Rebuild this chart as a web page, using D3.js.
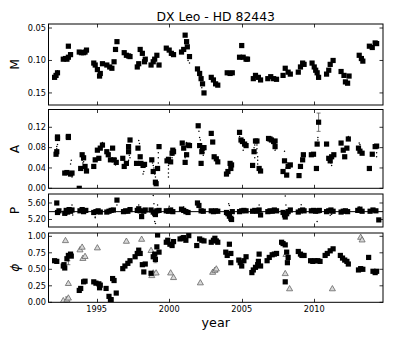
<!DOCTYPE html>
<html>
<head>
<meta charset="utf-8">
<script src="https://cdn.jsdelivr.net/npm/d3@7"></script>
<style>
  body { margin: 0; background: #fff; }
  text { font-family: "DejaVu Sans", sans-serif; }
</style>
</head>
<body>
<div class="mainDiv"></div>
<script>
// ---- data ----
const xTicks = [1995, 2000, 2005, 2010];

const mTicks = [0.05, 0.10, 0.15];
const mPts = [
  [1992.1,0.126],[1992.2,0.123],[1992.3,0.119],
  [1992.7,0.098],[1992.85,0.097],[1992.95,0.098],[1993.05,0.095],[1993.2,0.091],[1993.05,0.078],
  [1993.8,0.087],[1993.95,0.088],[1994.1,0.088],[1994.2,0.087],[1994.3,0.084],
  [1994.8,0.104],[1994.9,0.107],[1995.05,0.114],[1995.2,0.124],[1995.25,0.120],[1995.4,0.105],
  [1995.7,0.107],[1995.9,0.110],[1996.05,0.112],[1996.2,0.102],[1996.3,0.083],[1996.4,0.071],
  [1996.9,0.088],[1997.05,0.092],[1997.2,0.093],[1997.3,0.094],
  [1997.8,0.110],[1997.9,0.105],[1998.0,0.083],[1998.15,0.089],[1998.3,0.102],[1998.35,0.098],
  [1998.75,0.107],[1998.9,0.102],[1999.0,0.098],[1999.15,0.092],[1999.3,0.107],
  [1999.8,0.081],[2000.0,0.084],[2000.15,0.089],[2000.3,0.091],
  [2000.85,0.087],[2001.0,0.083],[2001.1,0.061],[2001.2,0.071],[2001.25,0.079],[2001.4,0.094],
  [2001.95,0.113],[2002.1,0.120],[2002.2,0.128],[2002.3,0.136],[2002.4,0.150],
  [2002.9,0.126],[2003.05,0.130],[2003.2,0.136],[2003.35,0.138],
  [2004.0,0.119],[2004.2,0.120],[2004.35,0.119],
  [2004.85,0.095],[2005.0,0.077],[2005.1,0.095],[2005.3,0.098],[2005.4,0.098],
  [2005.8,0.128],[2005.95,0.123],[2006.15,0.126],[2006.3,0.130],
  [2006.8,0.128],[2007.0,0.125],[2007.2,0.128],[2007.4,0.129],
  [2007.85,0.123],[2008.0,0.112],[2008.2,0.118],[2008.35,0.121],
  [2008.9,0.118],[2009.05,0.110],[2009.2,0.104],[2009.3,0.106],
  [2009.85,0.104],[2010.0,0.110],[2010.1,0.115],[2010.2,0.119],[2010.3,0.126],
  [2010.85,0.121],[2011.0,0.115],[2011.1,0.106],[2011.3,0.100],
  [2011.85,0.117],[2012.05,0.123],[2012.15,0.133],[2012.3,0.135],[2012.4,0.124],
  [2013.1,0.092],[2013.25,0.097],[2013.35,0.101],
  [2013.8,0.078],[2014.0,0.080],[2014.2,0.073],[2014.3,0.074]
];
const mDots = [[1992.3,0.116],[2001.3,0.100],[2001.4,0.104],[2002.25,0.142]];

const aTicks = [0.00, 0.04, 0.08, 0.12];
const aPts = [
  [1992.2,0.067],[1992.25,0.072],[1992.3,0.098],[1992.3,0.101],
  [1992.8,0.030],[1992.95,0.031],[1993.05,0.100],[1993.05,0.102],[1993.2,0.028],[1993.3,0.030],
  [1993.8,0.000],
  [1993.9,0.039],[1994.0,0.066],[1994.1,0.060],[1994.2,0.043],[1994.3,0.034],
  [1994.8,0.043],[1994.9,0.056],[1995.05,0.075],[1995.15,0.059],[1995.25,0.079],[1995.4,0.085],
  [1995.7,0.072],[1995.8,0.066],[1995.95,0.056],[1996.1,0.079],[1996.2,0.056],[1996.35,0.051],
  [1996.8,0.059],[1996.9,0.043],[1997.05,0.049],[1997.2,0.072],[1997.2,0.082],[1997.3,0.095],
  [1997.75,0.049],[1997.85,0.079],[1998.0,0.062],[1998.05,0.049],[1998.2,0.045],[1998.3,0.047],
  [1998.8,0.056],[1998.9,0.033],[1999.05,0.012],[1999.1,0.009],[1999.2,0.039],[1999.3,0.082],
  [1999.85,0.054],[1999.95,0.057],[2000.1,0.052],[2000.2,0.069],[2000.25,0.075],[2000.3,0.072],
  [2000.9,0.089],[2001.0,0.079],[2001.1,0.051],[2001.2,0.066],[2001.3,0.085],[2001.4,0.084],
  [2002.0,0.123],[2002.1,0.084],[2002.2,0.049],[2002.25,0.072],[2002.3,0.079],[2002.4,0.080],
  [2002.9,0.108],[2003.0,0.091],[2003.1,0.062],[2003.25,0.058],[2003.35,0.052],
  [2003.95,0.028],[2004.05,0.033],[2004.2,0.049],[2004.25,0.039],[2004.3,0.046],
  [2004.85,0.110],[2004.95,0.095],[2005.05,0.092],[2005.2,0.087],[2005.3,0.084],
  [2005.75,0.045],[2005.85,0.072],[2005.95,0.093],[2006.05,0.093],[2006.2,0.039],[2006.3,0.034],
  [2006.85,0.098],[2006.95,0.097],[2007.05,0.095],[2007.2,0.092],[2007.3,0.093],[2007.3,0.082],
  [2007.85,0.033],[2007.95,0.054],[2008.1,0.026],[2008.2,0.043],[2008.35,0.046],
  [2008.95,0.025],[2009.05,0.043],[2009.2,0.056],[2009.25,0.066],
  [2009.8,0.066],[2009.95,0.067],[2010.15,0.039],[2010.2,0.087],[2010.3,0.130],
  [2010.85,0.087],[2011.0,0.059],[2011.1,0.054],[2011.2,0.062],[2011.35,0.066],
  [2011.85,0.089],[2012.0,0.075],[2012.1,0.062],[2012.25,0.079],[2012.35,0.097],
  [2013.05,0.079],[2013.15,0.073],[2013.3,0.069],
  [2013.8,0.039],
  [2014.0,0.067],[2014.2,0.082],[2014.3,0.083]
];
const aDots = [
  [1992.25,0.078],[1992.25,0.082],[1992.3,0.086],
  [1993.25,0.055],[1993.2,0.048],[1993.3,0.022],[1993.2,0.025],
  [1994.0,0.055],[1994.05,0.050],[1994.1,0.052],
  [1995.4,0.090],[1995.35,0.088],
  [1996.3,0.046],[1996.35,0.058],
  [1997.25,0.065],[1997.3,0.060],[1997.2,0.055],
  [1997.9,0.094],[1997.95,0.088],[1998.2,0.028],[1998.25,0.033],
  [1998.85,0.050],[1998.9,0.045],[1998.95,0.040],[1999.0,0.035],[1999.0,0.028],[1999.05,0.022],
  [1999.25,0.060],[1999.25,0.050],[1999.25,0.070],
  [1999.95,0.045],[1999.95,0.038],[1999.95,0.030],[1999.95,0.022],
  [2000.2,0.060],[2000.2,0.065],
  [2001.1,0.060],[2001.15,0.070],[2001.2,0.090],
  [2002.05,0.112],[2002.1,0.100],[2002.15,0.095],[2002.4,0.070],[2002.35,0.065],
  [2004.85,0.102],[2005.1,0.075],
  [2005.85,0.080],[2005.9,0.085],[2005.9,0.060],
  [2006.05,0.085],[2006.05,0.078],[2006.05,0.070],[2006.1,0.062],[2006.1,0.055],[2006.1,0.048],
  [2007.35,0.078],[2007.3,0.075],
  [2007.95,0.073],[2008.05,0.040],[2008.15,0.050],
  [2010.25,0.095],[2010.25,0.100],
  [2011.15,0.050],[2011.2,0.045],
  [2012.35,0.102],[2013.1,0.089],[2013.15,0.086],
  [2014.3,0.070],[2014.3,0.062]
];
const aErr = [[2010.3,0.130,0.018]];

const pTicks = [5.20, 5.60];
const pMean = 5.39;
const pPts = [
  [1992.25,5.60],[1992.3,5.37],[1992.4,5.41],
  [1992.8,5.35],[1992.9,5.42],[1993.0,5.38],[1993.1,5.44],[1993.2,5.40],[1993.3,5.43],
  [1993.85,5.41],[1994.0,5.44],[1994.1,5.39],[1994.25,5.42],
  [1994.8,5.37],[1994.95,5.39],[1995.1,5.41],[1995.25,5.38],
  [1995.7,5.38],[1995.85,5.40],[1996.0,5.42],[1996.15,5.43],[1996.4,5.67],
  [1996.85,5.39],[1997.0,5.41],[1997.15,5.40],[1997.3,5.44],
  [1997.8,5.42],[1997.9,5.46],[1998.0,5.41],[1998.1,5.27],[1998.25,5.40],[1998.35,5.43],
  [1998.75,5.43],[1998.9,5.38],[1999.0,5.35],[1999.05,5.32],[1999.15,5.41],[1999.3,5.42],
  [1999.8,5.41],[1999.95,5.40],[2000.1,5.43],[2000.25,5.39],
  [2000.85,5.45],[2001.0,5.42],[2001.15,5.39],[2001.3,5.37],
  [2001.95,5.60],[2002.05,5.54],[2002.2,5.41],[2002.35,5.40],
  [2002.9,5.41],[2003.05,5.39],[2003.2,5.41],[2003.35,5.40],
  [2003.95,5.37],[2004.05,5.34],[2004.15,5.28],[2004.25,5.23],[2004.3,5.20],[2004.35,5.39],
  [2004.85,5.39],[2005.0,5.41],[2005.15,5.42],[2005.3,5.41],
  [2005.75,5.40],[2005.9,5.42],[2006.05,5.40],[2006.2,5.43],[2006.3,5.31],
  [2006.8,5.39],[2006.95,5.41],[2007.1,5.40],[2007.25,5.43],[2007.4,5.41],
  [2007.85,5.37],[2007.95,5.31],[2008.0,5.26],[2008.1,5.34],[2008.2,5.39],[2008.35,5.43],
  [2008.9,5.38],[2009.05,5.41],[2009.2,5.43],[2009.3,5.41],
  [2009.8,5.41],[2009.95,5.42],[2010.1,5.40],[2010.25,5.41],[2010.35,5.42],
  [2010.85,5.39],[2011.0,5.41],[2011.15,5.43],[2011.3,5.40],
  [2011.85,5.38],[2012.0,5.40],[2012.15,5.41],[2012.3,5.39],
  [2013.0,5.42],[2013.15,5.45],[2013.3,5.40],
  [2013.85,5.40],[2014.05,5.43],[2014.25,5.41],[2014.45,5.19]
];
const pDots = [
  [1992.9,5.30],[1992.95,5.33],[1993.3,5.55],[1993.35,5.31],[1994.9,5.26],[1994.9,5.24],
  [1996.4,5.55],[1997.9,5.55],[1998.0,5.30],[1998.9,5.78],[1998.95,5.58],[1999.0,5.15],
  [1999.05,5.10],[1999.2,5.55],[2000.0,5.52],[2001.0,5.50],[2002.1,5.55],[2004.1,5.58],
  [2004.15,5.54],[2004.9,5.36],[2006.2,5.55],[2008.0,5.77],[2008.05,5.55],[2009.1,5.56],
  [2010.2,5.15],[2011.1,5.30],[2011.2,5.33],[2013.1,5.50]
];

const phiTicks = [0.00, 0.25, 0.50, 0.75, 1.00];
const phiPts = [
  [1992.1,0.63],[1992.25,0.62],
  [1992.7,0.55],[1992.75,0.57],[1992.8,0.52],
  [1992.95,0.66],[1993.05,0.71],[1993.2,0.73],[1993.25,0.70],
  [1993.8,0.18],[1993.9,0.21],[1994.1,0.31],[1994.2,0.32],
  [1994.8,0.31],[1994.95,0.29],[1995.15,0.28],[1995.2,0.22],[1995.25,0.26],
  [1995.65,0.21],[1995.85,0.09],[1995.95,0.04],[1996.0,0.04],[1996.1,0.36],[1996.2,0.33],[1996.35,0.14],
  [1996.8,0.51],[1996.95,0.55],[1997.15,0.59],[1997.3,0.63],
  [1997.65,0.69],[1997.8,0.74],[1997.9,0.79],[1998.0,0.74],[1998.15,0.57],[1998.25,0.46],[1998.35,0.58],
  [1998.75,0.44],[1998.9,0.69],[1999.0,0.73],[1999.05,0.65],[1999.15,0.84],[1999.2,1.02],[1999.3,0.76],
  [1999.8,0.91],[1999.9,0.94],[2000.05,0.88],[2000.2,0.86],[2000.3,0.92],
  [2000.75,0.96],[2000.9,0.97],[2001.0,0.98],[2001.15,0.94],[2001.35,1.01],
  [2001.9,0.86],[2002.1,0.96],[2002.25,0.94],[2002.4,0.93],
  [2002.9,0.91],[2003.05,0.94],[2003.15,0.97],[2003.25,0.93],[2003.35,0.91],
  [2003.9,0.76],[2004.0,0.71],[2004.15,0.88],[2004.25,0.74],[2004.25,0.60],
  [2004.8,0.64],[2004.9,0.60],[2005.0,0.55],[2005.15,0.63],[2005.3,0.69],
  [2005.7,0.45],[2005.8,0.49],[2005.95,0.53],[2006.1,0.57],[2006.15,0.62],[2006.2,0.73],[2006.3,0.55],
  [2006.75,0.63],[2006.9,0.68],[2007.1,0.72],[2007.25,0.73],[2007.4,0.74],
  [2007.75,0.91],[2007.85,0.89],[2008.0,0.87],[2008.0,0.31],
  [2008.1,0.76],[2008.15,0.60],[2008.2,0.68],
  [2008.9,0.77],[2009.05,0.73],[2009.15,0.71],[2009.3,0.71],
  [2009.75,0.63],[2009.9,0.62],[2010.05,0.63],[2010.25,0.63],[2010.4,0.62],
  [2010.75,0.71],[2010.9,0.74],[2011.1,0.78],[2011.3,0.81],
  [2011.8,0.71],[2011.95,0.67],[2012.1,0.64],[2012.25,0.62],[2012.35,0.58],
  [2013.05,0.49],[2013.2,0.51],[2013.35,0.50],
  [2013.75,0.68],
  [2014.05,0.47],[2014.2,0.45],[2014.3,0.47]
];
const phiTri = [
  [1992.7,0.03],[1992.85,0.94],[1992.95,0.04],[1993.05,0.29],[1993.05,0.07],
  [1993.85,0.80],[1994.0,0.84],[1994.05,0.67],[1994.2,0.70],
  [1995.05,0.83],[1997.05,0.93],[1998.1,0.96],
  [1998.75,0.79],[1998.8,0.41],[1998.9,0.45],[1999.1,0.45],
  [2000.1,0.45],[2000.3,0.38],[2002.15,0.30],
  [2003.0,0.46],[2003.15,0.49],[2003.25,0.51],
  [2008.0,0.44],[2008.05,0.73],[2008.3,0.21],[2011.25,0.21],
  [2013.2,0.99],[2013.3,0.95]
];
const phiErr = [[1999.05,0.65,0.05],[1992.95,0.04,0.04],[1993.05,0.60,0.03]];

// ---- layout ----
const W = 403, H = 337;
const left = 48.5, right = 383;

var svg = d3.select('.mainDiv').append('svg')
  .attr('width', W).attr('height', H);

const x = d3.scaleLinear().domain([1991.68, 2014.74]).range([left, right]);

const panels = [
  {id: 'm', top: 24, bottom: 105, domain: [0.1686, 0.0438], ticks: mTicks, fmt: d3.format('.2f'), label: 'M'},
  {id: 'a', top: 109.5, bottom: 188.3, domain: [0, 0.155], ticks: aTicks, fmt: d3.format('.2f'), label: 'A'},
  {id: 'p', top: 194, bottom: 227, domain: [5.018, 5.818], ticks: pTicks, fmt: d3.format('.2f'), label: 'P'},
  {id: 'phi', top: 233, bottom: 302.3, domain: [0, 1.05], ticks: phiTicks, fmt: d3.format('.2f'), label: 'ϕ'}
];

panels.forEach(p => {
  p.y = d3.scaleLinear().domain(p.domain).range([p.bottom, p.top]);
  p.g = svg.append('g');
  svg.append('clipPath').attr('id', 'clip-' + p.id)
    .append('rect')
    .attr('x', left).attr('y', p.top)
    .attr('width', right - left).attr('height', p.bottom - p.top);
  p.plot = p.g.append('g').attr('clip-path', 'url(#clip-' + p.id + ')');
});

function squares(p, data) {
  p.plot.selectAll(null).data(data).join('rect')
    .attr('x', d => x(d[0]) - 2.6)
    .attr('y', d => p.y(d[1]) - 2.6)
    .attr('width', 5.2).attr('height', 5.2)
    .attr('fill', '#000');
}
function dots(p, data) {
  p.plot.selectAll(null).data(data).join('circle')
    .attr('cx', d => x(d[0]))
    .attr('cy', d => p.y(d[1]))
    .attr('r', 0.75)
    .attr('fill', '#000');
}
function errs(p, data) {
  const g = p.plot.append('g').attr('stroke', '#555').attr('stroke-width', 0.8);
  data.forEach(d => {
    const cx = x(d[0]), y1 = p.y(d[1] - d[2]), y2 = p.y(d[1] + d[2]);
    g.append('line').attr('x1', cx).attr('x2', cx).attr('y1', y1).attr('y2', y2);
    g.append('line').attr('x1', cx - 2).attr('x2', cx + 2).attr('y1', y1).attr('y2', y1);
    g.append('line').attr('x1', cx - 2).attr('x2', cx + 2).attr('y1', y2).attr('y2', y2);
  });
}

const [pm, pa, pp, pphi] = panels;

// M
dots(pm, mDots);
squares(pm, mPts);

// A
dots(pa, aDots);
errs(pa, aErr);
squares(pa, aPts);

// P
pp.plot.append('line')
  .attr('x1', left).attr('x2', right)
  .attr('y1', pp.y(pMean)).attr('y2', pp.y(pMean))
  .attr('stroke', '#000').attr('stroke-width', 1);
dots(pp, pDots);
squares(pp, pPts);

// phi
errs(pphi, phiErr);
pphi.plot.selectAll(null).data(phiTri).join('path')
  .attr('d', d3.symbol(d3.symbolTriangle).size(16))
  .attr('transform', d => 'translate(' + x(d[0]) + ',' + (pphi.y(d[1]) + 0.6) + ')')
  .attr('fill', '#d8d8d8')
  .attr('stroke', '#666')
  .attr('stroke-width', 0.8);
squares(pphi, phiPts);

// frames, ticks, labels
panels.forEach((p, i) => {
  const g = p.g;
  const tk = 3.5;
  xTicks.forEach(t => {
    const tx = Math.round(x(t)) + 0.5;
    g.append('line').attr('x1', tx).attr('x2', tx).attr('y1', p.top).attr('y2', p.top + tk)
      .attr('stroke', '#000').attr('stroke-width', 0.8);
    g.append('line').attr('x1', tx).attr('x2', tx).attr('y1', p.bottom).attr('y2', p.bottom - tk)
      .attr('stroke', '#000').attr('stroke-width', 0.8);
  });
  p.ticks.forEach(t => {
    const ty = p.y(t);
    g.append('line').attr('x1', left).attr('x2', left + tk).attr('y1', ty).attr('y2', ty)
      .attr('stroke', '#000').attr('stroke-width', 0.8);
    g.append('line').attr('x1', right).attr('x2', right - tk).attr('y1', ty).attr('y2', ty)
      .attr('stroke', '#000').attr('stroke-width', 0.8);
    g.append('text')
      .attr('x', left - 2.5).attr('y', ty)
      .attr('dy', '0.35em')
      .attr('text-anchor', 'end')
      .attr('font-size', 8.2)
      .attr('fill', '#000')
      .text(p.fmt(t));
  });
  g.append('rect')
    .attr('x', left).attr('y', p.top)
    .attr('width', right - left).attr('height', p.bottom - p.top)
    .attr('fill', 'none').attr('stroke', '#000').attr('stroke-width', 1);

  g.append('text')
    .attr('transform', 'translate(18.5,' + ((p.top + p.bottom) / 2) + ') rotate(-90)')
    .attr('text-anchor', 'middle')
    .attr('font-size', 12.4)
    .attr('font-style', p.id === 'phi' ? 'italic' : 'normal')
    .text(p.label);

  if (i === panels.length - 1) {
    xTicks.forEach(t => {
      g.append('text')
        .attr('x', x(t)).attr('y', 311.5)
        .attr('text-anchor', 'middle')
        .attr('font-size', 8.2)
        .text(t);
    });
  }
});

svg.append('text')
  .attr('x', (left + right) / 2).attr('y', 21.3)
  .attr('text-anchor', 'middle')
  .attr('font-size', 12.4)
  .text('DX Leo - HD 82443');

svg.append('text')
  .attr('x', (left + right) / 2).attr('y', 327)
  .attr('text-anchor', 'middle')
  .attr('font-size', 12.7)
  .text('year');
</script>
</body>
</html>
